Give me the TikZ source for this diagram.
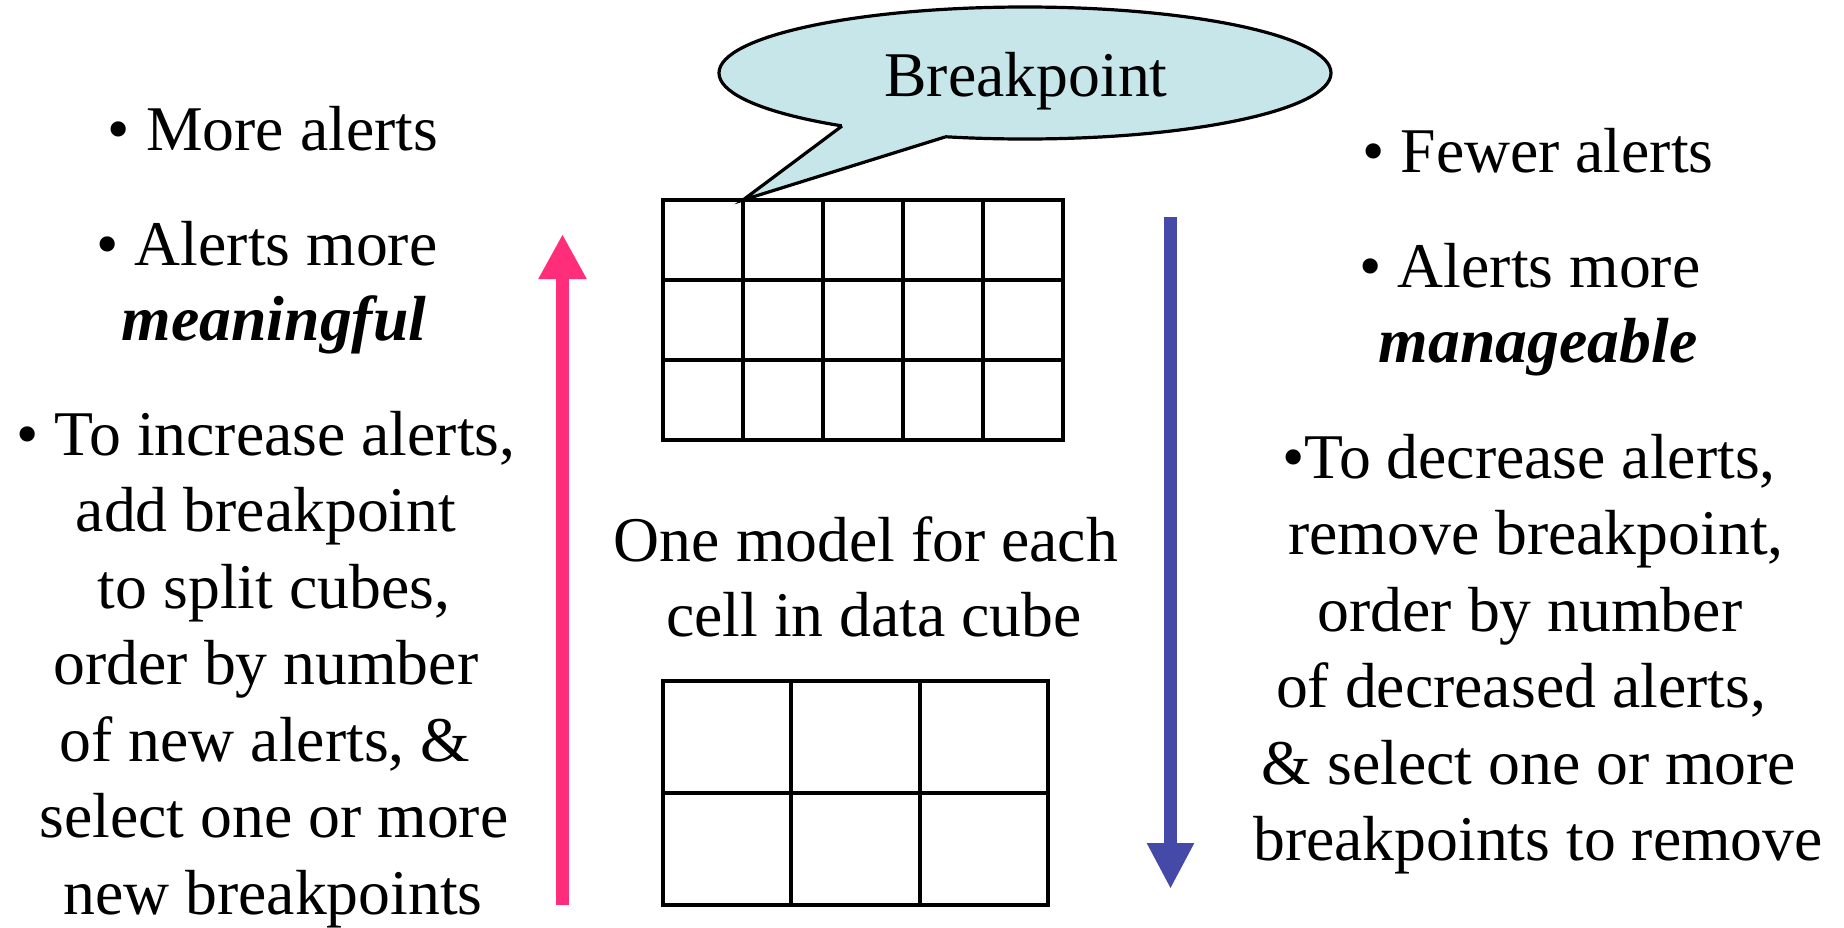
\documentclass[tikz,border=0pt]{standalone}
\usepackage{fontspec}
\setmainfont{Liberation Serif}
\usetikzlibrary{arrows.meta,shapes.geometric,calc}
\definecolor{pinkarrow}{RGB}{255,45,122}
\definecolor{bluearrow}{RGB}{69,74,168}
\definecolor{bubblefill}{RGB}{198,230,234}
\begin{document}
\begin{tikzpicture}[x=1pt,y=-1pt,
  txt/.style={anchor=base,inner sep=0pt,outer sep=0pt,font=\fontsize{63.7}{76.4}\selectfont},
  emph/.style={txt,font=\fontsize{63.7}{76.4}\selectfont\bfseries\itshape},
  gridline/.style={line width=3.5pt,draw=black},
  outline/.style={line width=3.2pt,draw=black,line join=miter}
]
\useasboundingbox (0,0) rectangle (1844,927);

% callout bubble
\node[ellipse,outline,fill=bubblefill,minimum width=612pt,minimum height=132pt,inner sep=0pt] (bubble) at (1025,73) {};
\coordinate (tailA) at (842,126);
\coordinate (tailB) at (945,137);
\coordinate (tailtip) at (743,200);
\fill[bubblefill] (tailA) -- (tailtip) -- (tailB) -- ($(tailB)+(0,-6)$) -- ($(tailA)+(0,-6)$) -- cycle;
\draw[outline] (tailA) -- (tailtip) -- (tailB);
\node[txt] (bptext) at (1026,96) {Breakpoint};

% top grid 5x3
\draw[gridline] (663,200) rectangle (1063,440);
\foreach \x in {743,823,903,983} \draw[gridline] (\x,200) -- (\x,440);
\foreach \y in {280,360} \draw[gridline] (663,\y) -- (1063,\y);

% bottom grid 3x2
\draw[gridline] (663,681) rectangle (1048,905);
\foreach \x in {791,920} \draw[gridline] (\x,681) -- (\x,905);
\draw[gridline] (663,793) -- (1048,793);

% arrows
\coordinate (pinkbot) at (562.5,905);
\coordinate (pinktop) at (562.5,234);
\draw[pinkarrow,line width=13pt,-{Triangle[length=45pt,width=45pt]}] (pinkbot) -- (pinktop);
\coordinate (bluetop) at (1170.5,217);
\coordinate (bluebot) at (1170.5,889);
\draw[bluearrow,line width=12.6pt,-{Triangle[length=46pt,width=44pt]}] (bluetop) -- (bluebot);

% left text
\node[txt] (l1) at (273,150) {• More alerts};
\node[txt] (l2) at (267,265) {• Alerts more};
\node[emph] (l3) at (274,340) {meaningful};
\node[txt] (l4) at (266,455) {• To increase alerts,};
\node[txt] (l5) at (266,531.5) {add breakpoint};
\node[txt] (l6) at (274,608) {to split cubes,};
\node[txt] (l7) at (266,684.5) {order by number};
\node[txt] (l8) at (265,761) {of new alerts, \&};
\node[txt] (l9) at (274,837.5) {select one or more};
\node[txt] (l10) at (273,914) {new breakpoints};

% middle text
\node[txt] (m1) at (866,561) {One model for each};
\node[txt] (m2) at (874,636) {cell in data cube};

% right text
\node[txt] (r1) at (1538,172) {• Fewer alerts};
\node[txt] (r2) at (1530,287) {• Alerts more};
\node[emph] (r3) at (1538,362) {manageable};
\node[txt] (r4) at (1529,478) {•To decrease alerts,};
\node[txt] (r5) at (1536,554.5) {remove breakpoint,};
\node[txt] (r6) at (1530,631) {order by number};
\node[txt] (r7) at (1521,707.5) {of decreased alerts,};
\node[txt] (r8) at (1529,784) {\& select one or more};
\node[txt] (r9) at (1538,860.5) {breakpoints to remove};
\end{tikzpicture}
\end{document}
